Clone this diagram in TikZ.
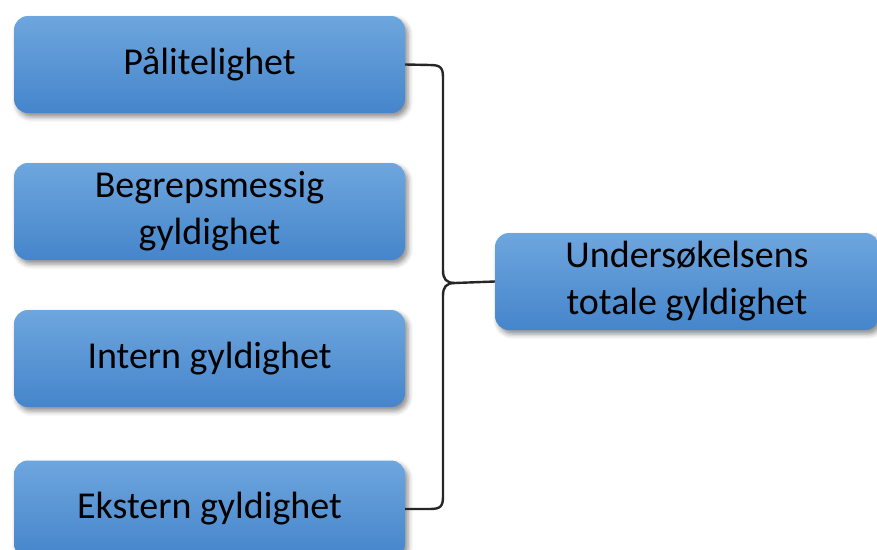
\documentclass[tikz,border=0pt]{standalone}
\usepackage{fontspec}
\setmainfont{Carlito}
\usetikzlibrary{shadows.blur}
\begin{document}
\begin{tikzpicture}[x=1pt,y=-1pt,
  box/.style={rounded corners=14pt, top color=boxtop, bottom color=boxbot, draw=none,
    minimum width=391pt, minimum height=97pt, align=center, font=\fontsize{38}{47}\selectfont,
    blur shadow={shadow xshift=3pt, shadow yshift=-4pt, shadow blur radius=5pt, shadow opacity=45}},
  conn/.style={line width=2.4pt, draw=black!85}]
\definecolor{boxtop}{HTML}{6EA6DE}
\definecolor{boxbot}{HTML}{4585CB}
\useasboundingbox (0,0) rectangle (877,549);
\clip (0,0) rectangle (877,549);
\node[box] (b1) at (209.5,64.5) {Pålitelighet};
\node[box] (b2) at (209.5,211.5) {Begrepsmessig\\gyldighet};
\node[box] (b3) at (209.5,358.5) {Intern gyldighet};
\node[box] (b4) at (209.5,509) {Ekstern gyldighet};
\node[box, minimum width=384pt] (r) at (687,281.5) {Undersøkelsens\\totale gyldighet};
\coordinate (tip) at (455,283);
\draw[conn] (b1.east) -- (430,65) .. controls (441,65) and (443,68) .. (443,78) -- (443,270)
  .. controls (443,279) and (446,283) .. (tip) -- (r.west);
\draw[conn] (b4.east) -- (430,509) .. controls (441,509) and (443,506) .. (443,496) -- (443,296)
  .. controls (443,287) and (446,283) .. (tip);
\end{tikzpicture}
\end{document}
